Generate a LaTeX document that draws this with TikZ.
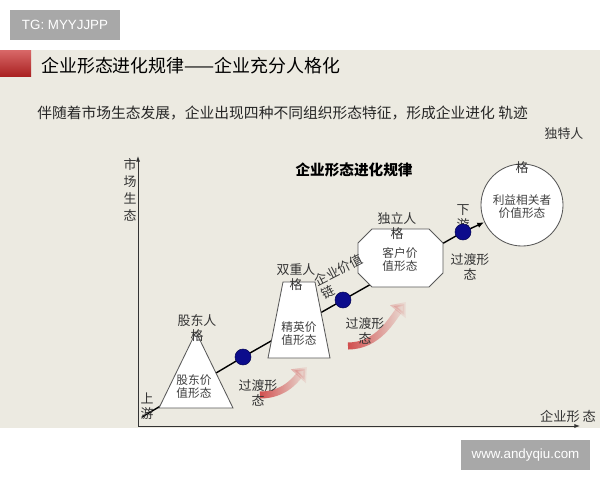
\documentclass[tikz,border=0pt]{standalone}
\usepackage{fontspec}
\setmainfont{Noto Sans CJK SC}
\newfontfamily\latinfont{Liberation Sans}
\usepackage{xcolor}
\usepackage{tikz}
\usetikzlibrary{arrows.meta,positioning,calc,fadings}

\definecolor{panel}{RGB}{236,234,225}
\definecolor{taggray}{RGB}{168,168,168}
\definecolor{dotblue}{RGB}{12,12,140}
\definecolor{turnred}{RGB}{208,70,70}
\definecolor{titlered}{RGB}{200,40,40}
\newcommand{\fsz}[2]{\fontsize{#1}{#2}\selectfont}

\begin{document}
\begin{tikzpicture}[x=0.025cm, y=-0.025cm,
  lbl/.style={font=\fsz{9.2}{10.6}, text=black!80, align=center, inner sep=0pt},
  inlbl/.style={font=\fsz{8.3}{9.2}, text=black!75, align=center, inner sep=0pt},
  shp/.style={draw=black!65, fill=white, line width=0.6pt},
  dot/.style={circle, fill=dotblue, draw=dotblue!60!black, minimum size=0.4cm, inner sep=0pt},
  turn/.style={turnred, line width=5pt, path fading=east, -{Triangle[length=9pt,width=14pt]}},
  tag/.style={fill=taggray, text=white, font=\latinfont\fsz{9.5}{11}, minimum height=0.75cm, inner sep=0pt},
  axis/.style={draw=black!80, line width=0.7pt, -{Latex[length=4pt,width=3pt]}}]

% 背景与面板
\fill[white] (0,0) rectangle (600,480);
\useasboundingbox (0,0) rectangle (600,480);
\fill[panel] (0,50) rectangle (600,428);
\shade[top color=titlered!70!white, bottom color=titlered!85!black] (0,50) rectangle (31,76);

% 水印
\node[tag, minimum width=2.75cm] (tg) at (65,25) {TG: MYYJJPP};
\node[tag, minimum width=3.225cm] (wm) at (525.5,455) {www.andyqiu.com};

% 标题
\node[anchor=west, font=\fsz{12.75}{14}, inner sep=0pt] (title) at (41,66) {企业形态进化规律——企业充分人格化};
\node[anchor=west, font=\fsz{10.5}{12}, text=black!85, inner sep=0pt] (sub) at (37,113) {伴随着市场生态发展，企业出现四种不同组织形态特征，形成企业进化 轨迹};
\node[lbl] (dute) at (564,134) {独特人};
\node[font=\bfseries\fsz{10.4}{12}, inner sep=0pt] (head) at (354,170) {企业形态进化规律};

% 坐标轴
\coordinate (O) at (138,426);
\coordinate (ytop) at (138,156);
\coordinate (xend) at (580,426);
\draw[axis] (O) -- (ytop);
\draw[axis] (O) -- (xend);
\node[lbl, font=\fsz{9.2}{12}] (yl) at (130,190) {市\\场\\生\\态};
\node[lbl, font=\fsz{9.4}{11}] (xl) at (568,416) {企业形 态};

% 进化主线
\coordinate (up) at (142,417);
\coordinate (d1) at (243,357);
\coordinate (d2) at (343,300);
\coordinate (d3) at (463,232);
\node[circle, shp, minimum size=2.05cm] (c4) at (522,205) {};
\draw[line width=1pt] (up) -- (d1) -- (d2) -- (d3);
\draw[line width=1pt, -{Latex[length=5pt,width=4pt]}] (d3) -- (c4);

% 四种组织形态
\draw[shp] (159,408) -- (196,332) -- (233,408) -- cycle;
\draw[shp] (268,358) -- (283,282) -- (315,282) -- (330,358) -- cycle;
\draw[shp] (372,229) -- (429,229) -- (443,243) -- (443,273) -- (429,287) -- (372,287) -- (358,273) -- (358,243) -- cycle;

\node[inlbl] (t1) at (194,387) {股东价\\值形态};
\node[inlbl] (t2) at (299,334) {精英价\\值形态};
\node[inlbl] (t3) at (400,260) {客户价\\值形态};
\node[inlbl] (t4) at (522,207) {利益相关者\\价值形态};

% 人格标签
\node[lbl] (p1) at (197,328) {股东人\\格};
\node[lbl] (p2) at (296,277) {双重人\\格};
\node[lbl] (p3) at (397,226) {独立人\\格};
\node[lbl] (p4) at (522,168) {格};

\node[lbl] (shang) at (147,406) {上\\游};
\node[lbl] (xia) at (463,218) {下\\游};

% 过渡点
\foreach \i in {1,2,3}
    \node[dot] (dot\i) at (d\i) {};

% 红色箭头
\coordinate (a1s) at (260,395);
\coordinate (a1e) at (307,367);
\coordinate (a2s) at (348,346);
\coordinate (a2e) at (406,302);
\draw[turn] (a1s) .. controls +(24,0) and +(-12,13) .. (a1e);
\draw[turn] (a2s) .. controls +(30,0) and +(-14,17) .. (a2e);

% 过渡形态
\node[lbl] (g1) at (258,393) {过渡形\\态};
\node[lbl] (g2) at (365,331) {过渡形\\态};
\node[lbl] (g3) at (470,267) {过渡形\\态};

\node[lbl, align=left, rotate=27] (chain) at (342,277) {企业价值\\链};
\end{tikzpicture}
\end{document}
